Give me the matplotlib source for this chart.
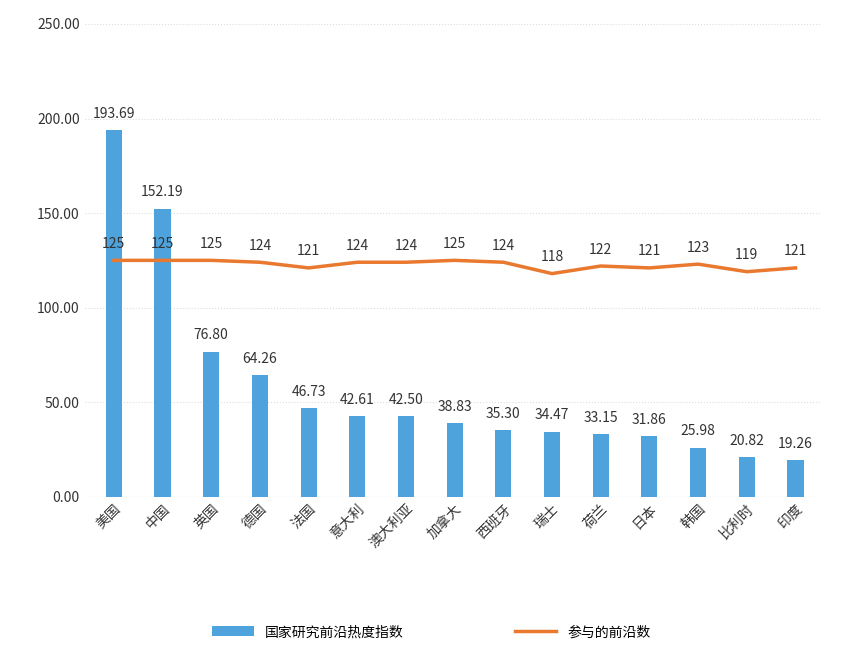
import numpy as np
import matplotlib.pyplot as plt

plt.rcParams["font.family"] = ["Noto Sans CJK SC", "DejaVu Sans"]

countries = ["美国", "中国", "英国", "德国", "法国", "意大利", "澳大利亚", "加拿大",
             "西班牙", "瑞士", "荷兰", "日本", "韩国", "比利时", "印度"]
heat_index = [193.69, 152.19, 76.80, 64.26, 46.73, 42.61, 42.50, 38.83,
              35.30, 34.47, 33.15, 31.86, 25.98, 20.82, 19.26]
fronts = [125, 125, 125, 124, 121, 124, 124, 125, 124, 118, 122, 121, 123, 119, 121]

fig = plt.figure(figsize=(8.63, 6.65), dpi=100)
ax = fig.add_axes([0.098, 0.253, 0.852, 0.711])

x = np.arange(len(countries))
bars = ax.bar(x, heat_index, 0.33, color="#4fa3dc", label="国家研究前沿热度指数", zorder=2)
line, = ax.plot(x, fronts, color="#e8792f", lw=2.5, label="参与的前沿数", zorder=3)

for xi, v in zip(x, heat_index):
    ax.text(xi, v + 5, f"{v:.2f}", ha="center", va="bottom", fontsize=10, color="#333333")
for xi, v in zip(x, fronts):
    ax.text(xi, v + 5, str(v), ha="center", va="bottom", fontsize=10, color="#333333")

ax.set_ylim(0, 250)
ax.set_xlim(-0.6, len(countries) - 0.5)
ax.set_yticks(np.arange(0, 251, 50))
ax.set_yticklabels([f"{t:.2f}" for t in np.arange(0, 251, 50)])
ax.set_xticks(x)
ax.set_xticklabels(countries, rotation=45, ha="right", rotation_mode="anchor")
ax.tick_params(length=0, labelsize=10, colors="#333333")
ax.grid(axis="y", linestyle=":", color="#dddddd", zorder=0)
for s in ax.spines.values():
    s.set_visible(False)
ax.axhline(0, color="#dddddd", lw=0.8, zorder=1)

fig.legend(handles=[bars, line], loc="lower center", bbox_to_anchor=(0.5, 0.02),
           ncol=2, frameon=False, fontsize=10, columnspacing=8, handlelength=3)

fig.savefig("out.png", dpi=100)
